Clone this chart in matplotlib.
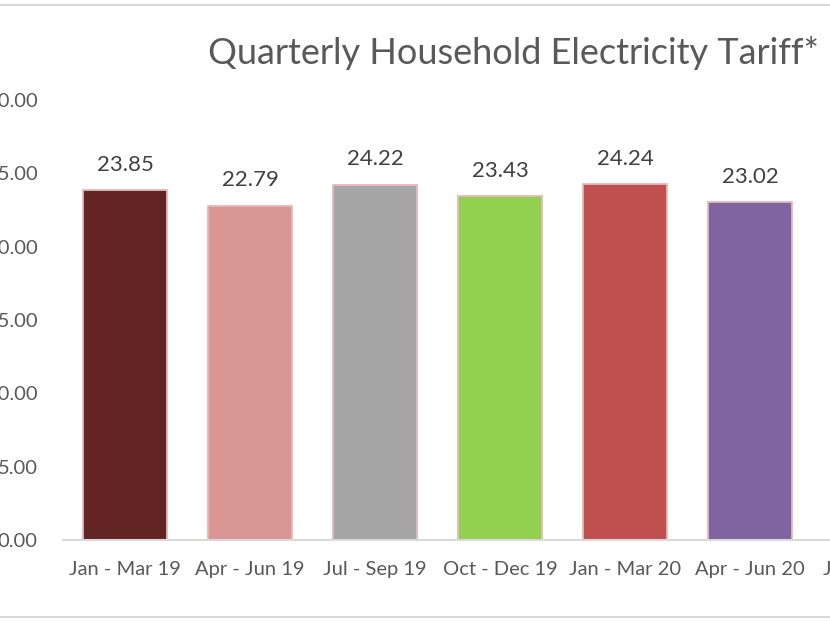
import matplotlib
matplotlib.use("Agg")
import matplotlib.pyplot as plt
from matplotlib.lines import Line2D

categories = ["Jan - Mar 19", "Apr - Jun 19", "Jul - Sep 19", "Oct - Dec 19",
              "Jan - Mar 20", "Apr - Jun 20", "Jul - Sep 20"]
values = [23.85, 22.79, 24.22, 23.43, 24.24, 23.02, None]
colors = ["#632523", "#D99694", "#A6A6A6", "#92D050", "#C0504D", "#8064A2", "#4BACC6"]
yticks = [0, 5, 10, 15, 20, 25, 30]
title = "Quarterly Household Electricity Tariff*"

W, H = 830, 622
fig = plt.figure(figsize=(W / 100, H / 100), dpi=100)
plt.rcParams["font.family"] = ["Lato", "DejaVu Sans"]

# axes: x=-0.5 at 62.5px, 125 px per category; y=0 at 540px, y=30 at 100px
left_px, cat_px = 62.5, 125.0
ncat = len(categories)
ax = fig.add_axes([left_px / W, (H - 540) / H, ncat * cat_px / W, 440 / H])

xs = list(range(ncat))
for x, v, c in zip(xs, values, colors):
    if v is None:
        continue
    ax.bar(x, v, width=0.665, color=c, edgecolor="#E6B9B8", linewidth=1.3, zorder=2)
    ax.annotate(f"{v:.2f}", (x, v), xytext=(0, 11), textcoords="offset points",
                ha="center", va="bottom", fontsize=16, color="#404040")

ax.set_xlim(-0.5, ncat - 0.5)
ax.set_ylim(0, 30)
ax.set_xticks(xs)
ax.set_xticklabels(categories, fontsize=14.5, color="#595959")
ax.set_yticks(yticks)
ax.set_yticklabels([f"{t:.2f}" for t in yticks], fontsize=14.5, color="#595959")
ax.tick_params(axis="both", length=0)
ax.tick_params(axis="y", pad=18)
ax.tick_params(axis="x", pad=15)
for s in ["top", "right", "left"]:
    ax.spines[s].set_visible(False)
ax.spines["bottom"].set_color("#D9D9D9")
ax.spines["bottom"].set_linewidth(1.5)

fig.text(513 / W, 1 - 53 / H, title, ha="center", va="center", fontsize=26, color="#595959")

# chart frame lines (top and bottom)
for ypx in (5, 617):
    fig.add_artist(Line2D([0, 1], [1 - ypx / H, 1 - ypx / H], transform=fig.transFigure,
                          color="#D9D9D9", linewidth=1.5))

fig.savefig("out.png", dpi=100)
